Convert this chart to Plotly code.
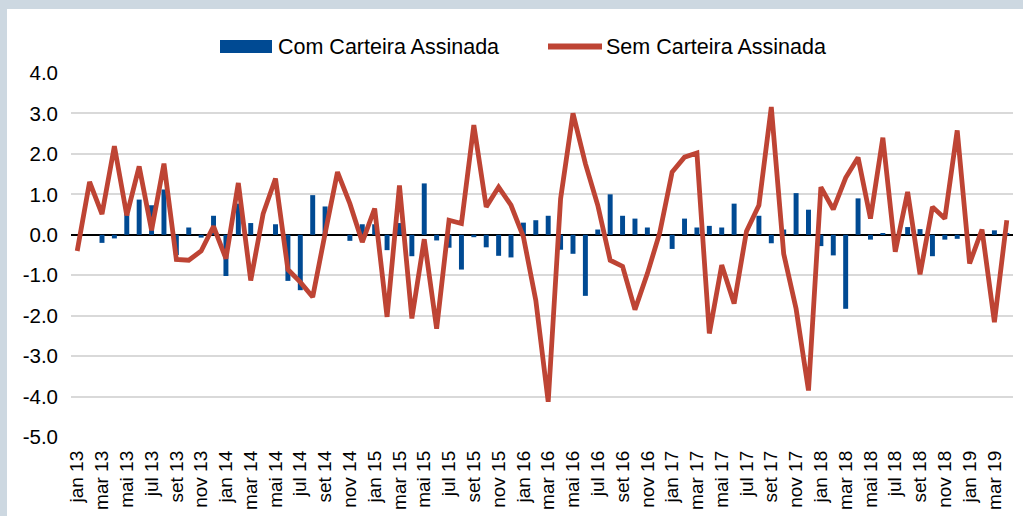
import plotly.graph_objects as go

month_names = ["jan", "fev", "mar", "abr", "mai", "jun", "jul", "ago", "set", "out", "nov", "dez"]
years = ["13", "14", "15", "16", "17", "18", "19"]
n_months = 76  # jan 13 .. abr 19
categories = [f"{month_names[i % 12]} {years[i // 12]}" for i in range(n_months)]
tick_labels = categories[::2]

com_carteira = [
    0.0, 0.0, -0.20, -0.09, 0.52, 0.87, 0.73, 1.12, -0.50, 0.18,
    -0.07, 0.47, -1.02, 0.77, 0.29, 0.0, 0.26, -1.14, -1.37, 0.98,
    0.70, 0.0, -0.15, 0.26, 0.26, -0.38, 0.29, -0.53, 1.27, -0.14,
    -0.32, -0.86, -0.06, -0.31, -0.52, -0.56, 0.30, 0.36, 0.47, -0.37,
    -0.47, -1.51, 0.13, 1.0, 0.47, 0.40, 0.18, 0.0, -0.35, 0.40,
    0.18, 0.22, 0.18, 0.77, 0.0, 0.47, -0.21, 0.13, 1.03, 0.62,
    -0.28, -0.51, -1.83, 0.90, -0.12, 0.03, 0.0, 0.19, 0.14, -0.53,
    -0.12, -0.10, 0.0, 0.0, 0.11, 0.03,
]
sem_carteira = [
    -0.40, 1.31, 0.51, 2.19, 0.48, 1.69, 0.11, 1.76, -0.61, -0.63,
    -0.40, 0.21, -0.59, 1.28, -1.13, 0.52, 1.39, -0.86, -1.17, -1.54,
    0.03, 1.55, 0.77, -0.18, 0.65, -2.03, 1.22, -2.07, -0.11, -2.32,
    0.36, 0.28, 2.71, 0.69, 1.18, 0.73, -0.05, -1.62, -4.13, 0.89,
    3.0, 1.76, 0.73, -0.63, -0.78, -1.85, -0.96, 0.05, 1.55, 1.92,
    2.02, -2.44, -0.75, -1.70, 0.09, 0.73, 3.16, -0.47, -1.83, -3.85,
    1.18, 0.63, 1.41, 1.91, 0.40, 2.40, -0.42, 1.06, -0.98, 0.69,
    0.40, 2.58, -0.71, 0.13, -2.16, 0.36,
]
y_ticks = [-5, -4, -3, -2, -1, 0, 1, 2, 3, 4]
y_tick_text = [f"{v:.1f}" for v in y_ticks]

BLUE = "#004A93"
RED = "#BE4434"
BAND = "#CDD8E1"
FONT = "Liberation Sans, Arial, sans-serif"

W, H = 1023, 516
L, R, T, B = 71, 10, 73, 79
pw, ph = W - L - R, H - T - B


def px(x):
    return (x - L) / pw


def py(y):
    return (H - B - y) / ph


fig = go.Figure()
fig.add_trace(go.Bar(x=categories, y=com_carteira, name="Com Carteira Assinada",
                     marker=dict(color=BLUE, line=dict(width=0)), showlegend=False))
fig.add_trace(go.Scatter(x=categories, y=sem_carteira, name="Sem Carteira Assinada",
                         mode="lines", line=dict(color=RED, width=4.8), showlegend=False))

shapes = [
    # outer frame bands
    dict(type="rect", xref="paper", yref="paper", x0=px(-20), x1=px(7), y0=py(600), y1=py(-20),
         fillcolor=BAND, line=dict(width=0), layer="above"),
    dict(type="rect", xref="paper", yref="paper", x0=px(-20), x1=px(1100), y0=py(9), y1=py(-20),
         fillcolor=BAND, line=dict(width=0), layer="above"),
    # legend swatches
    dict(type="rect", xref="paper", yref="paper", x0=px(220), x1=px(272), y0=py(53), y1=py(40),
         fillcolor=BLUE, line=dict(width=0)),
    dict(type="line", xref="paper", yref="paper", x0=px(548), x1=px(602), y0=py(46.5), y1=py(46.5),
         line=dict(color=RED, width=6)),
]
annotations = [
    dict(text="Com Carteira Assinada", xref="paper", yref="paper", x=px(276), y=py(47),
         xanchor="left", yanchor="middle", showarrow=False,
         font=dict(family=FONT, size=21.5, color="black")),
    dict(text="Sem Carteira Assinada", xref="paper", yref="paper", x=px(604), y=py(47),
         xanchor="left", yanchor="middle", showarrow=False,
         font=dict(family=FONT, size=21.5, color="black")),
]

fig.update_layout(
    width=W, height=H,
    margin=dict(l=L, r=R, t=T, b=B, pad=0, autoexpand=False),
    paper_bgcolor="white", plot_bgcolor="white",
    bargap=0.6,
    shapes=shapes, annotations=annotations,
    showlegend=False,
    font=dict(family=FONT, color="black"),
)
fig.update_xaxes(
    type="category", tickmode="array", tickvals=tick_labels, ticktext=tick_labels,
    tickangle=-90, tickfont=dict(family=FONT, size=19, color="black"),
    showgrid=False, showline=False, ticks="", ticklabelstandoff=9, automargin=False,
)
fig.update_yaxes(
    range=[-5, 4], tickmode="array", tickvals=y_ticks, ticktext=y_tick_text,
    tickfont=dict(family=FONT, size=20.5, color="black"),
    showgrid=True, gridcolor="#D9D9D9", gridwidth=2,
    zeroline=True, zerolinecolor="black", zerolinewidth=1.5,
    showline=False, ticks="", ticklabelstandoff=12, automargin=False,
)

fig.write_html("out.html", config={"displayModeBar": False},
               post_script="document.body.style.margin='0';document.body.style.overflow='hidden';")
